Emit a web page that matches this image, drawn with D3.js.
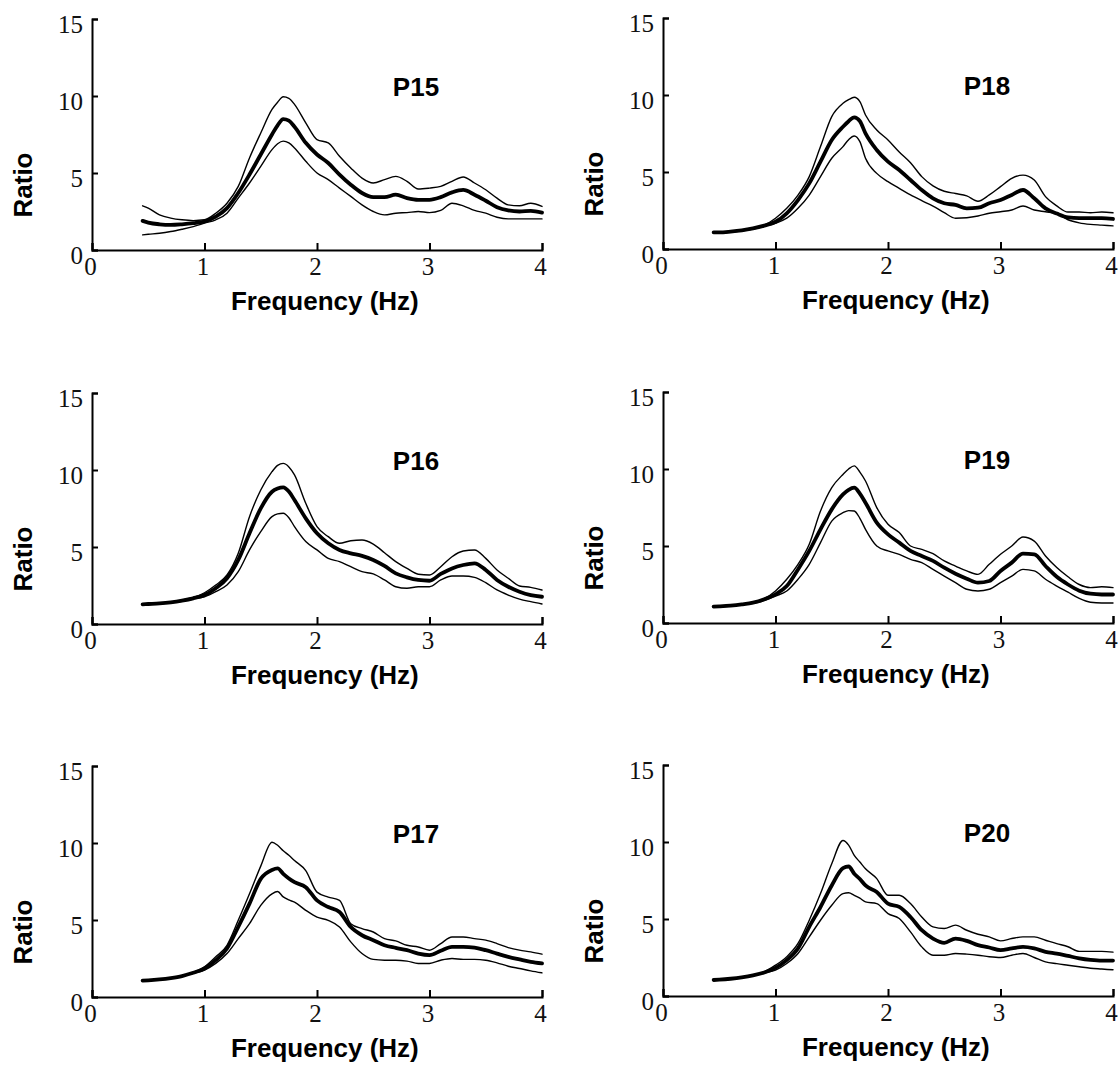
<!DOCTYPE html>
<html>
<head>
<meta charset="utf-8">
<script src="https://cdnjs.cloudflare.com/ajax/libs/d3/7.8.5/d3.min.js"></script>
<style>
  body { margin: 0; background: #fff; }
  svg { display: block; }
</style>
</head>
<body>
<svg></svg>
<script>
// frequency grid (Hz) shared by all curves
let freq = [0.45,0.5,0.6,0.7,0.8,0.9,1.0,1.1,1.2,1.3,1.4,1.5,1.6,1.65,1.7,1.75,1.8,1.9,2.0,2.1,2.2,2.3,2.4,2.5,2.6,2.7,2.8,2.9,3.0,3.1,3.2,3.3,3.4,3.5,3.6,3.7,3.8,3.9,4.0];

let xTicks = [0,1,2,3,4];
let yTicks = [0,5,10,15];

// P15
let p15Mean  = [1.89,1.78,1.67,1.63,1.67,1.74,1.85,2.17,2.72,3.7,4.9,6.2,7.5,8.1,8.5,8.4,8.0,6.96,6.2,5.65,4.9,4.24,3.7,3.43,3.43,3.59,3.37,3.26,3.26,3.43,3.74,3.9,3.59,3.2,2.78,2.57,2.5,2.54,2.43];
let p15Upper = [2.87,2.72,2.28,2.07,1.96,1.91,1.96,2.39,3.04,4.13,5.98,7.6,9.13,9.6,9.95,9.85,9.46,8.26,7.17,6.96,6.09,5.33,4.67,4.35,4.57,4.78,4.46,3.96,4.02,4.13,4.46,4.74,4.35,3.91,3.37,2.93,2.87,3.04,2.83];
let p15Lower = [0.98,1.02,1.09,1.2,1.35,1.52,1.74,1.96,2.39,3.37,4.35,5.43,6.52,6.9,7.07,6.95,6.63,5.76,5.0,4.57,4.02,3.48,2.93,2.5,2.28,2.39,2.43,2.5,2.43,2.57,3.04,2.87,2.57,2.39,2.13,2.02,2.02,2.02,2.02];

// P18
let p18Mean  = [1.08,1.08,1.13,1.21,1.34,1.52,1.77,2.32,3.18,4.26,5.67,7.08,7.94,8.3,8.55,8.3,7.51,6.43,5.67,5.13,4.48,3.83,3.29,2.97,2.86,2.64,2.68,2.97,3.18,3.51,3.83,3.29,2.64,2.3,2.05,2.0,2.0,2.0,1.95];
let p18Upper = [1.08,1.08,1.13,1.22,1.36,1.55,2.0,2.64,3.5,4.7,6.65,8.6,9.46,9.7,9.85,9.57,8.7,7.73,7.08,6.3,5.6,4.7,4.1,3.75,3.6,3.45,3.1,3.51,4.05,4.59,4.8,4.48,3.4,2.8,2.4,2.4,2.35,2.4,2.35];
let p18Lower = [1.05,1.05,1.1,1.18,1.3,1.48,1.67,2.0,2.64,3.5,4.7,5.89,6.65,7.1,7.34,6.97,5.89,4.91,4.37,3.94,3.51,3.14,2.79,2.36,2.0,2.03,2.14,2.32,2.42,2.53,2.79,2.53,2.42,2.3,1.9,1.7,1.6,1.55,1.5];

// P16
let p16Mean  = [1.28,1.3,1.34,1.41,1.52,1.67,1.88,2.32,2.97,4.16,5.89,7.51,8.59,8.8,8.87,8.6,8.05,6.86,5.89,5.24,4.81,4.59,4.42,4.16,3.77,3.29,3.03,2.86,2.81,3.25,3.61,3.83,3.94,3.51,2.86,2.42,2.1,1.88,1.77];
let p16Upper = [1.3,1.3,1.35,1.43,1.55,1.72,2.03,2.53,3.18,4.59,6.97,8.7,9.89,10.3,10.43,10.2,9.68,7.84,6.32,5.67,5.24,5.41,5.45,5.19,4.63,4.05,3.61,3.23,3.18,3.72,4.37,4.74,4.81,4.26,3.51,2.97,2.47,2.38,2.21];
let p16Lower = [1.25,1.27,1.31,1.38,1.48,1.62,1.77,2.1,2.53,3.4,4.81,6.0,6.97,7.15,7.19,6.9,6.32,5.35,4.81,4.26,4.05,3.72,3.4,3.25,2.86,2.42,2.32,2.42,2.42,2.86,3.12,3.12,3.03,2.68,2.21,1.88,1.62,1.45,1.3];

// P19
let p19Mean  = [1.06,1.08,1.13,1.21,1.32,1.54,1.86,2.4,3.48,4.68,6.08,7.38,8.35,8.65,8.79,8.4,7.81,6.52,5.76,5.22,4.68,4.35,4.03,3.59,3.2,2.88,2.62,2.73,3.38,3.92,4.5,4.46,3.7,3.0,2.5,2.1,1.9,1.85,1.85];
let p19Upper = [1.1,1.1,1.15,1.23,1.35,1.58,2.08,2.84,3.81,5.11,7.27,8.79,9.65,10.0,10.2,9.8,9.22,7.49,6.41,5.87,5.0,4.78,4.5,4.03,3.7,3.38,3.16,3.81,4.46,5.0,5.58,5.32,4.35,3.6,3.0,2.5,2.3,2.35,2.3];
let p19Lower = [1.05,1.05,1.1,1.18,1.28,1.45,1.75,2.08,2.84,3.81,5.22,6.62,7.16,7.3,7.27,6.8,6.08,5.0,4.68,4.46,4.13,3.92,3.48,3.05,2.62,2.19,2.08,2.19,2.62,3.05,3.48,3.38,2.84,2.4,2.0,1.6,1.35,1.3,1.3];

// P17
let p17Mean  = [1.06,1.08,1.14,1.23,1.36,1.57,1.85,2.39,3.15,4.55,6.06,7.67,8.25,8.35,8.0,7.7,7.46,7.13,6.27,5.84,5.52,4.55,4.01,3.69,3.36,3.19,3.04,2.82,2.72,3.0,3.25,3.25,3.21,3.04,2.82,2.61,2.44,2.28,2.18];
let p17Upper = [1.08,1.1,1.16,1.25,1.38,1.6,1.96,2.61,3.36,4.98,6.7,8.5,10.05,9.85,9.5,9.2,8.86,8.21,6.81,6.49,6.27,4.76,4.44,4.22,3.79,3.64,3.36,3.25,3.04,3.47,3.9,3.9,3.79,3.69,3.47,3.21,3.04,2.93,2.78];
let p17Lower = [1.04,1.06,1.12,1.2,1.33,1.54,1.75,2.18,2.82,3.79,4.76,5.95,6.7,6.85,6.5,6.3,6.16,5.63,5.19,4.98,4.55,3.58,2.82,2.44,2.39,2.39,2.33,2.18,2.18,2.39,2.5,2.44,2.44,2.39,2.22,2.0,1.85,1.7,1.57];

// P20
let p20Mean  = [1.04,1.06,1.12,1.21,1.34,1.53,1.83,2.33,3.09,4.49,5.78,7.18,8.3,8.41,7.94,7.6,7.18,6.75,6.0,5.78,5.13,4.27,3.73,3.45,3.73,3.58,3.3,3.15,2.98,3.09,3.19,3.09,2.87,2.75,2.6,2.45,2.35,2.3,2.3];
let p20Upper = [1.06,1.08,1.14,1.23,1.36,1.57,2.0,2.55,3.41,4.92,6.65,8.59,10.1,9.8,9.13,8.7,8.26,7.62,6.54,6.54,6.0,5.13,4.49,4.38,4.6,4.27,4.01,3.84,3.58,3.73,3.84,3.84,3.62,3.4,3.2,2.9,2.9,2.9,2.85];
let p20Lower = [1.02,1.04,1.1,1.18,1.31,1.5,1.68,2.11,2.76,3.84,4.92,5.89,6.65,6.7,6.54,6.35,6.11,6.0,5.35,5.03,4.16,3.19,2.65,2.65,2.76,2.72,2.65,2.55,2.5,2.65,2.76,2.5,2.22,2.1,2.0,1.9,1.8,1.75,1.7];

let w = 1119;
let h = 1065;
let plotW = 450;
let plotH = 231;

// panel origin = position of (0,0) on the page
let panels = [
  {name:'P15', ox:92,  oy:250, mean:p15Mean, upper:p15Upper, lower:p15Lower},
  {name:'P18', ox:663, oy:249, mean:p18Mean, upper:p18Upper, lower:p18Lower},
  {name:'P16', ox:92,  oy:624, mean:p16Mean, upper:p16Upper, lower:p16Lower},
  {name:'P19', ox:663, oy:623, mean:p19Mean, upper:p19Upper, lower:p19Lower},
  {name:'P17', ox:92,  oy:997, mean:p17Mean, upper:p17Upper, lower:p17Lower},
  {name:'P20', ox:663, oy:996, mean:p20Mean, upper:p20Upper, lower:p20Lower}
];

let svg = d3.select('svg').attr('width', w).attr('height', h);
svg.append('rect').attr('width', w).attr('height', h).attr('fill', '#fff');

let xScale = d3.scaleLinear().domain([0,4]).range([0,plotW]);
let yScale = d3.scaleLinear().domain([0,15]).range([0,-plotH]);

let line = d3.line()
  .x(d => xScale(d[0]))
  .y(d => yScale(d[1]))
  .curve(d3.curveMonotoneX);

let drawPanel = (p) => {
  let g = svg.append('g').attr('transform', 'translate(' + p.ox + ',' + p.oy + ')');

  // axes, ticks pointing inward
  let xAxis = d3.axisBottom(xScale).tickValues(xTicks).tickFormat(d3.format('d'))
    .tickSizeInner(-7).tickSizeOuter(-7).tickPadding(7);
  let gx = g.append('g').call(xAxis);
  let yAxis = d3.axisLeft(yScale).tickValues(yTicks).tickFormat(d3.format('d'))
    .tickSizeInner(-6).tickSizeOuter(-6).tickPadding(9);
  let gy = g.append('g').call(yAxis);

  [gx, gy].forEach(a => {
    a.attr('font-family', '"Liberation Serif", "Times New Roman", serif').attr('font-size', 25);
    a.selectAll('path, line').attr('stroke', '#000').attr('stroke-width', 2);
    a.selectAll('text').attr('fill', '#111');
  });
  gx.selectAll('text').attr('dx', -2);
  gy.selectAll('text').attr('dy', '0.52em');

  // curves: thin bounds, thick mean
  let series = [
    {vals: p.upper, sw: 1.4},
    {vals: p.lower, sw: 1.4},
    {vals: p.mean,  sw: 3.8}
  ];
  g.selectAll('path.curve')
    .data(series)
    .enter()
    .append('path')
    .attr('class', 'curve')
    .attr('d', s => line(freq.map((f, i) => [f, s.vals[i]])))
    .attr('fill', 'none')
    .attr('stroke', '#000')
    .attr('stroke-width', s => s.sw)
    .attr('stroke-linejoin', 'round')
    .attr('stroke-linecap', 'round');

  let bold = '"Liberation Sans", Arial, Helvetica, sans-serif';

  g.append('text')
    .attr('x', xScale(2.88))
    .attr('y', yScale(10))
    .attr('text-anchor', 'middle')
    .attr('font-family', bold)
    .attr('font-weight', 'bold')
    .attr('font-size', 26)
    .text(p.name);

  g.append('text')
    .attr('x', xScale(2.07))
    .attr('y', 60)
    .attr('text-anchor', 'middle')
    .attr('font-family', bold)
    .attr('font-weight', 'bold')
    .attr('font-size', 26)
    .text('Frequency (Hz)');

  g.append('text')
    .attr('transform', 'translate(-60,-65) rotate(-90)')
    .attr('text-anchor', 'middle')
    .attr('font-family', bold)
    .attr('font-weight', 'bold')
    .attr('font-size', 26)
    .text('Ratio');
};

panels.forEach(drawPanel);
</script>
</body>
</html>
